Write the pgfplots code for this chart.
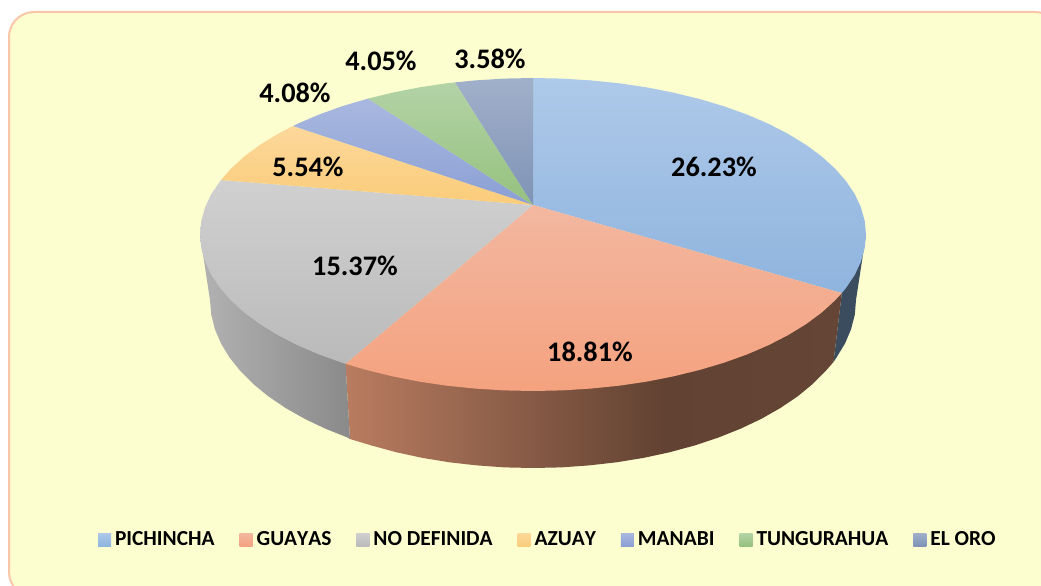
\documentclass[border=0pt]{standalone}
\usepackage{pgfplots}
\pgfplotsset{compat=1.18}
\usepackage{fontspec}
\setmainfont[Kerning=Off]{Carlito}

\definecolor{panel}{HTML}{FCFECF}
\definecolor{panelline}{HTML}{F9C6A9}
\definecolor{wallA}{RGB}{185,124,96}
\definecolor{wallB}{RGB}{98,66,50}
\definecolor{wallC}{RGB}{101,70,54}

% side walls: stops sit between 25bp and 75bp (the path's bounding box)
\pgfdeclarehorizontalshading{salmonwall}{100bp}{
  color(0bp)=(wallA);
  color(25bp)=(wallA);
  color(57bp)=(wallB);
  color(75bp)=(wallC);
  color(100bp)=(wallC)}

\begin{document}
\begin{tikzpicture}
\begin{axis}[
    hide axis,
    scale only axis,
    x=1bp, y=1bp,
    y dir=reverse,
    xmin=0, xmax=1041,
    ymin=0, ymax=586,
    legend columns=7,
    legend image code/.code={\path[#1] (0bp,-6.5bp) rectangle (13bp,6.5bp);},
    legend style={
        at={(axis cs:98,539.5)}, anchor=west,
        draw=none, fill=none, inner sep=0pt, outer sep=0pt,
        font=\fontsize{21.5}{23}\selectfont\bfseries,
        cells={anchor=west},
        nodes={inner sep=0pt},
        /tikz/every odd column/.append style={column sep=4bp},
        /tikz/every even column/.append style={column sep=25bp},
    },
]

\fill[white] (axis cs:0,0) rectangle (axis cs:1041,586);
\draw[draw=panelline, fill=panel, line width=2bp, rounded corners=25bp]
    (axis cs:9,12) rectangle (axis cs:1060,597);

% walls
\addplot[forget plot, draw=none, fill={rgb,255:red,59;green,76;blue,95}] coordinates {
    (866,234.5) (856,300) (854.8,314.6) (851.1,329.2) (845,343.5) (836.5,357.5) (833.5,362) (841.8,293.1)
} --cycle;

\addplot[forget plot, draw=none, shading=salmonwall] coordinates {
    (841.8,293.1) (345.5,363.8) (350,439) (371.5,445.5) (396.5,452.3) (422.5,457.9) (449.4,462.3)
    (476.9,465.4) (504.8,467.4) (533,468) (561.2,467.4) (589.1,465.4) (616.6,462.3) (643.5,457.9)
    (669.5,452.3) (694.5,445.5) (718.3,437.6) (740.6,428.7) (761.4,418.8) (780.4,408) (797.6,396.4)
    (812.7,384) (825.7,371) (833.5,362)
} --cycle;

\addplot[forget plot, draw=none, left color={rgb,255:red,178;green,178;blue,178}, right color={rgb,255:red,138;green,138;blue,138}] coordinates {
    (345.5,363.8) (200,234.5) (210,300) (211.2,314.6) (214.9,329.2) (221,343.5) (229.5,357.5)
    (240.3,371) (253.3,384) (268.4,396.4) (285.6,408) (304.6,418.8) (325.4,428.7) (347.7,437.6) (350,439)
} --cycle;

% top faces
\addplot[draw=none, top color={rgb,255:red,174;green,201;blue,233}, bottom color={rgb,255:red,143;green,180;blue,222}] coordinates {
    (533,205) (533,78) (562,78.6) (590.8,80.4) (619.2,83.3) (646.9,87.4) (673.7,92.7) (699.5,99)
    (724,106.3) (747.1,114.6) (768.5,123.8) (788.1,133.9) (805.8,144.7) (821.4,156.2) (834.8,168.4)
    (845.9,181) (854.7,194) (860.9,207.3) (864.7,220.9) (866,234.5) (864.7,248.1) (860.9,261.7)
    (854.7,275) (845.9,288) (841.8,293.1)
} --cycle;
\addlegendentry{PICHINCHA}

\addplot[draw=none, top color={rgb,255:red,243;green,183;blue,160}, bottom color={rgb,255:red,244;green,162;blue,127}] coordinates {
    (533,205) (841.8,293.1) (834.8,300.6) (821.4,312.8) (805.8,324.3) (788.1,335.1) (768.5,345.2)
    (747.1,354.4) (724,362.7) (699.5,370) (673.7,376.3) (646.9,381.6) (619.2,385.7) (590.8,388.6)
    (562,390.4) (533,391) (504,390.4) (475.2,388.6) (446.8,385.7) (419.1,381.6) (392.3,376.3)
    (366.5,370) (345.5,363.8)
} --cycle;
\addlegendentry{GUAYAS}

\addplot[draw=none, top color={rgb,255:red,208;green,208;blue,208}, bottom color={rgb,255:red,186;green,186;blue,186}] coordinates {
    (533,205) (345.5,363.8) (342,362.7) (318.9,354.4) (297.5,345.2) (277.9,335.1) (260.2,324.3)
    (244.6,312.8) (231.2,300.6) (220.1,288) (211.3,275) (205.1,261.7) (201.3,248.1) (200,234.5)
    (201.3,220.9) (205.1,207.3) (211.3,194) (221,180)
} --cycle;
\addlegendentry{NO DEFINIDA}

\addplot[draw=none, top color={rgb,255:red,252;green,216;blue,155}, bottom color={rgb,255:red,251;green,204;blue,122}] coordinates {
    (533,205) (221,180) (231.2,168.4) (244.6,156.2) (260.2,144.7) (277.9,133.9) (293,126)
} --cycle;
\addlegendentry{AZUAY}

\addplot[draw=none, top color={rgb,255:red,168;green,184;blue,223}, bottom color={rgb,255:red,139;green,159;blue,212}] coordinates {
    (533,205) (293,126) (297.5,123.8) (318.9,114.6) (342,106.3) (368,98.6)
} --cycle;
\addlegendentry{MANABI}

\addplot[draw=none, top color={rgb,255:red,179;green,211;blue,166}, bottom color={rgb,255:red,149;green,193;blue,126}] coordinates {
    (533,205) (368,98.6) (392.3,92.7) (419.1,87.4) (446.8,83.3) (455,82.4)
} --cycle;
\addlegendentry{TUNGURAHUA}

\addplot[draw=none, top color={rgb,255:red,161;green,176;blue,202}, bottom color={rgb,255:red,127;green,147;blue,182}] coordinates {
    (533,205) (455,82.4) (475.2,80.4) (504,78.6) (533,78)
} --cycle;
\addlegendentry{EL ORO}

% data labels
\begin{scope}[every node/.style={font=\fontsize{28.4}{30}\selectfont\bfseries, inner sep=0pt, text=black}]
\node at (axis cs:714,167) {26.23\%};
\node at (axis cs:590,352) {18.81\%};
\node at (axis cs:355,266) {15.37\%};
\node at (axis cs:308,167) {5.54\%};
\node at (axis cs:295,93) {4.08\%};
\node at (axis cs:381,61) {4.05\%};
\node at (axis cs:490,59) {3.58\%};
\end{scope}

\end{axis}
\end{tikzpicture}
\end{document}
